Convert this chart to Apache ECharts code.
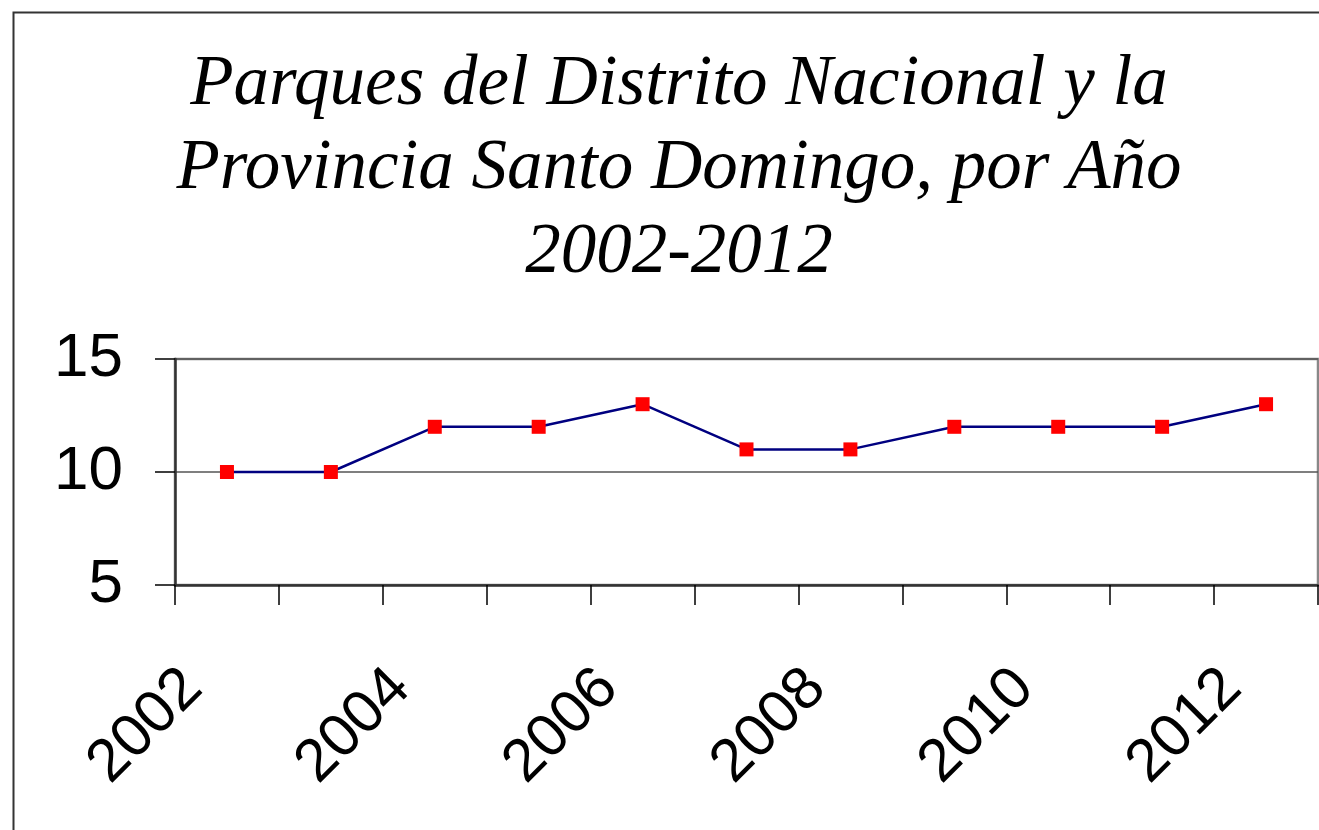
<!DOCTYPE html>
<html>
<head>
<meta charset="utf-8">
<script src="https://cdn.jsdelivr.net/npm/echarts@6/dist/echarts.min.js"></script>
<style>
  html, body { margin: 0; padding: 0; background: #fff; }
  #chart { width: 1319px; height: 830px; }
</style>
</head>
<body>
<div id="chart"></div>
<script>
// años y número de parques
var years = ['2002', '2003', '2004', '2005', '2006', '2007', '2008', '2009', '2010', '2011', '2012']
var parques = [10, 10, 12, 12, 13, 11, 11, 12, 12, 12, 13]
var yTicks = [5, 10, 15]
var titulo = 'Parques del Distrito Nacional y la\nProvincia Santo Domingo, por Año\n2002-2012'

var myChart = echarts.init(document.getElementById('chart'))

var option = {
  backgroundColor: '#fff',
  animation: false,
  title: {
    text: titulo,
    left: 679,
    top: 43,
    padding: 0,
    textAlign: 'center',
    textStyle: {
      fontFamily: 'Liberation Serif',
      fontStyle: 'italic',
      fontWeight: 'normal',
      fontSize: 71,
      lineHeight: 84,
      color: '#000'
    }
  },
  graphic: [
    {
      type: 'rect',
      left: 11,
      top: 10,
      shape: { width: 1400, height: 900 },
      style: { fill: 'none', stroke: '#333', lineWidth: 2 },
      silent: true
    },
    {
      type: 'text',
      left: 22,
      top: -17,
      style: { text: 'Gráfica 1', fill: '#6a6aff', font: '20px Liberation Sans' }
    }
  ],
  grid: {
    left: 175,
    right: 1,
    top: 359,
    bottom: 245,
    show: true,
    borderColor: '#888',
    borderWidth: 2.5,
    containLabel: false
  },
  xAxis: {
    type: 'category',
    data: years,
    boundaryGap: true,
    axisLine: { show: true, lineStyle: { color: '#333', width: 2.5 } },
    axisTick: { show: true, interval: 0, length: 20, lineStyle: { color: '#000', width: 1.5 } },
    axisLabel: {
      interval: 1,
      rotate: 45,
      margin: 60,
      padding: [0, 48, 0, 0],
      fontFamily: 'Liberation Sans',
      fontSize: 60,
      color: '#000'
    },
    splitLine: { show: false }
  },
  yAxis: {
    type: 'value',
    min: yTicks[0],
    max: yTicks[yTicks.length - 1],
    interval: 5,
    axisLine: { show: true, lineStyle: { color: '#333', width: 2.5 } },
    axisTick: { show: true, length: 20, lineStyle: { color: '#000', width: 1.5 } },
    axisLabel: {
      margin: 52,
      fontFamily: 'Liberation Sans',
      fontSize: 62,
      color: '#000'
    },
    splitLine: { show: true, lineStyle: { color: '#555', width: 1.5 } }
  },
  series: [{
    type: 'line',
    data: parques,
    symbol: 'rect',
    symbolSize: 14,
    itemStyle: { color: '#ff0000' },
    lineStyle: { color: '#000080', width: 2.5 }
  }]
}

myChart.setOption(option)
</script>
</body>
</html>
